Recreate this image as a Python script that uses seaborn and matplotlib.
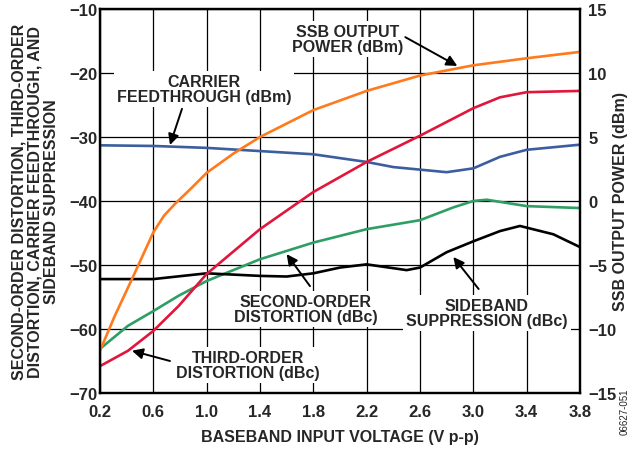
import matplotlib
matplotlib.use("Agg")
import matplotlib.pyplot as plt
import seaborn as sns

# values (x = baseband input voltage, V p-p)
ssb_v = [0.2, 0.31, 0.44, 0.6, 0.68, 0.76, 0.88, 1.0, 1.2, 1.4, 1.8, 2.2, 2.6, 3.0, 3.4, 3.8]
ssb_dbm = [-11.7, -9.0, -6.1, -2.45, -1.15, -0.25, 0.95, 2.2, 3.7, 5.0, 7.1, 8.6, 9.8, 10.6, 11.15, 11.65]

third_v = [0.2, 0.41, 0.6, 0.79, 1.0, 1.4, 1.8, 2.2, 2.6, 3.0, 3.2, 3.4, 3.8]
third_dbc = [-65.8, -63.4, -60.3, -56.4, -51.4, -44.4, -38.6, -33.9, -29.8, -25.5, -23.8, -23.0, -22.8]

second_v = [0.2, 0.41, 0.6, 0.79, 1.0, 1.4, 1.8, 2.2, 2.6, 2.85, 3.0, 3.1, 3.4, 3.8]
second_dbc = [-63.1, -59.5, -57.2, -54.8, -52.5, -49.1, -46.5, -44.4, -43.0, -41.0, -40.0, -39.8, -40.8, -41.1]

sideband_v = [0.2, 0.6, 1.0, 1.4, 1.6, 1.8, 2.0, 2.2, 2.5, 2.6, 2.8, 3.0, 3.2, 3.35, 3.6, 3.8]
sideband_dbc = [-52.2, -52.2, -51.3, -51.7, -51.8, -51.3, -50.4, -49.9, -50.8, -50.4, -48.0, -46.3, -44.7, -43.9, -45.2, -47.2]

carrier_v = [0.2, 0.6, 1.0, 1.4, 1.8, 2.2, 2.4, 2.6, 2.8, 3.0, 3.2, 3.4, 3.8]
carrier_dbm = [-31.3, -31.4, -31.7, -32.2, -32.7, -33.9, -34.7, -35.1, -35.5, -34.9, -33.1, -32.0, -31.2]

x_ticks = [0.2, 0.6, 1.0, 1.4, 1.8, 2.2, 2.6, 3.0, 3.4, 3.8]
left_ticks = [-70, -60, -50, -40, -30, -20, -10]
right_ticks = [-15, -10, -5, 0, 5, 10, 15]

sns.set_style("white")
plt.rcParams["font.family"] = ["Liberation Sans", "DejaVu Sans"]
plt.rcParams["font.weight"] = "bold"

fig = plt.figure(figsize=(6.34, 4.52), dpi=100)
ax = fig.add_axes([0.1577, 0.1283, 0.7571, 0.8496])
ax2 = ax.twinx()

lw = 1.9
sns.lineplot(x=carrier_v, y=carrier_dbm, ax=ax, color="#3C5E9E", lw=lw)
sns.lineplot(x=second_v, y=second_dbc, ax=ax, color="#2E9E64", lw=lw)
sns.lineplot(x=sideband_v, y=sideband_dbc, ax=ax, color="black", lw=lw)
sns.lineplot(x=third_v, y=third_dbc, ax=ax, color="#E0163C", lw=lw)
sns.lineplot(x=ssb_v, y=ssb_dbm, ax=ax2, color="#FF7A1C", lw=lw)

ax.set_xlim(0.2, 3.8)
ax.set_ylim(-70, -10)
ax2.set_ylim(-15, 15)
ax.set_xticks(x_ticks)
ax.set_xticklabels([f"{t:.1f}" for t in x_ticks])
ax.set_yticks(left_ticks)
ax2.set_yticks(right_ticks)

ax.grid(True, color="black", lw=0.9)
ax.set_axisbelow(True)
ax.tick_params(axis="both", length=0, labelsize=12)
ax.tick_params(axis="y", pad=2)
ax.tick_params(axis="x", pad=8)
ax2.tick_params(axis="y", length=0, labelsize=12, pad=6)
for a in (ax, ax2):
    for s in a.spines.values():
        s.set_linewidth(1.6)
        s.set_color("black")

ax.set_xlabel("BASEBAND INPUT VOLTAGE (V p-p)", fontsize=11.5, fontweight="bold", va="center")
ax.xaxis.set_label_coords(0.5, -0.112)
ax.set_ylabel("SECOND-ORDER DISTORTION, THIRD-ORDER\nDISTORTION, CARRIER FEEDTHROUGH, AND\nSIDEBAND SUPPRESSION",
              fontsize=11.5, fontweight="bold", va="center", linespacing=1.12)
ax.yaxis.set_label_coords(-0.135, 0.5)
ax2.set_ylabel("SSB OUTPUT POWER (dBm)", fontsize=11.5, fontweight="bold", va="center")
ax2.yaxis.set_label_coords(1.085, 0.5)

# annotations (left-axis data units)
box = dict(boxstyle="square,pad=0.2", fc="white", ec="none")
arrow = dict(arrowstyle="-|>", color="black", lw=1.4, mutation_scale=16, shrinkA=0, shrinkB=0)
labels = [
    ("SSB OUTPUT\nPOWER (dBm)", (2.06, -14.7), (2.49, -14.4), (2.88, -18.9)),
    ("CARRIER\nFEEDTHROUGH (dBm)", (0.98, -22.5), (0.815, -25.6), (0.725, -31.25)),
    ("SECOND-ORDER\nDISTORTION (dBc)", (1.745, -56.9), (1.775, -53.3), (1.60, -48.3)),
    ("SIDEBAND\nSUPPRESSION (dBc)", (3.10, -57.5), (3.04, -53.75), (2.85, -48.75)),
    ("THIRD-ORDER\nDISTORTION (dBc)", (1.31, -65.6), (0.725, -65.0), (0.44, -63.4)),
]
for text, pos, tail, head in labels:
    ax.text(pos[0], pos[1], text, ha="center", va="center", fontsize=11.5, fontweight="bold",
            linespacing=1.0, bbox=box, zorder=3)
    ax.annotate("", xy=head, xytext=tail, arrowprops=arrow, zorder=4)

fig.text(0.985, 0.09, "06627-051", rotation=90, ha="center", va="center", fontsize=7, fontweight="normal")

fig.savefig("out.png", dpi=100)
